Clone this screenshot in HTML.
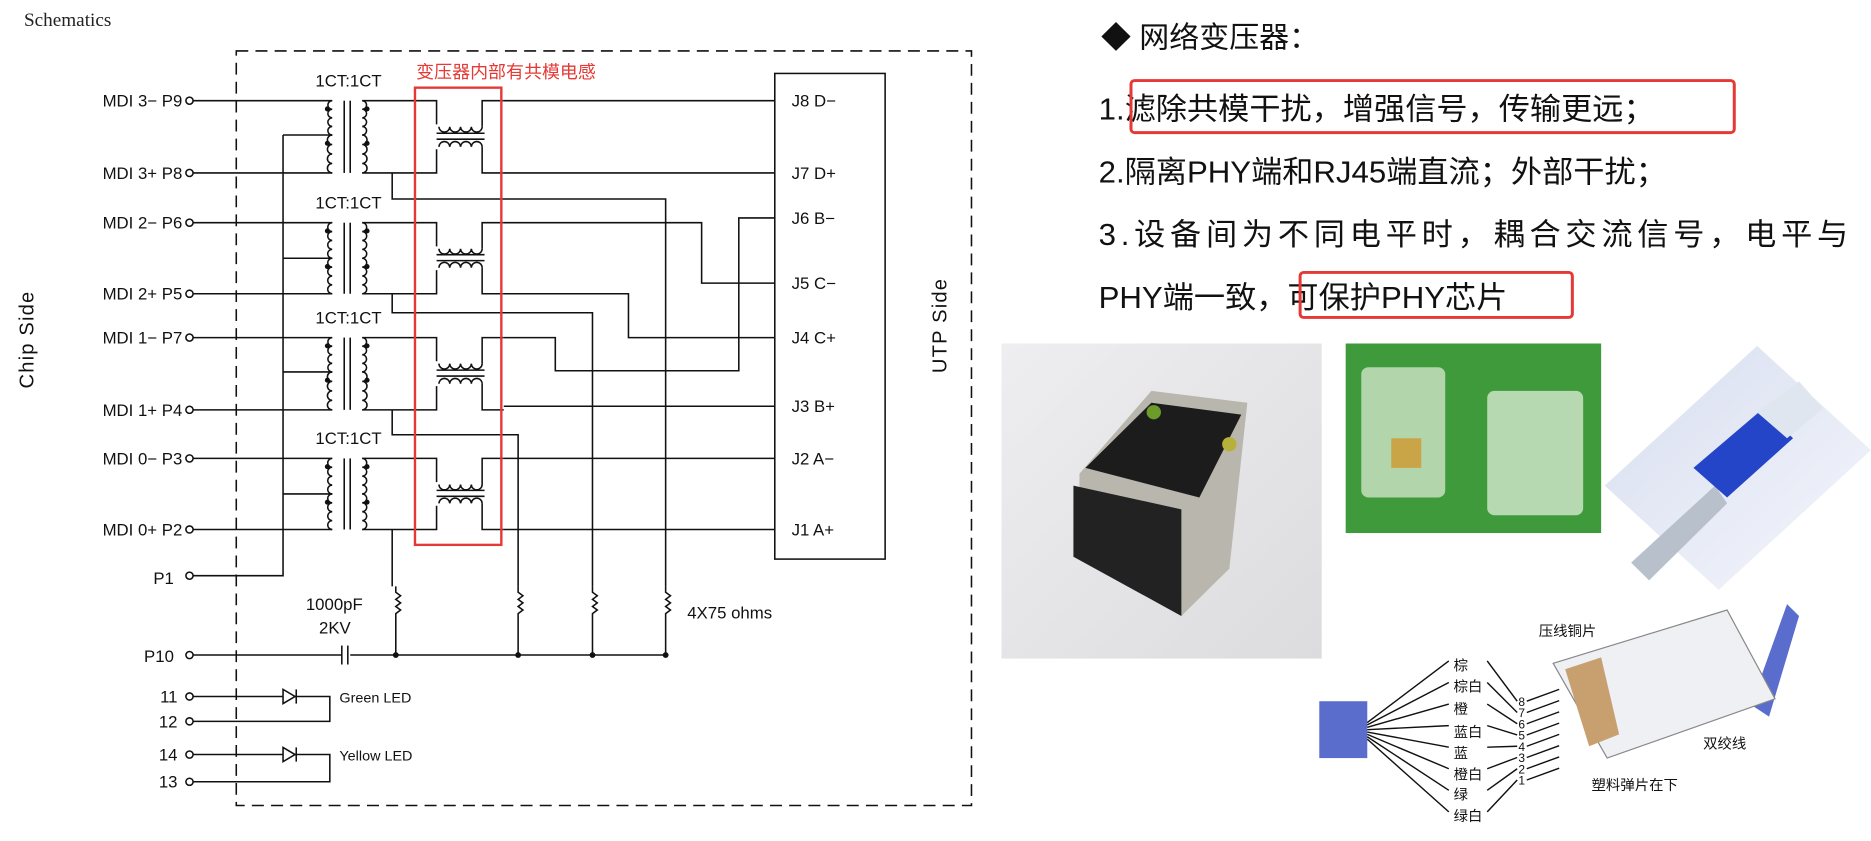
<!DOCTYPE html>
<html><head><meta charset="utf-8">
<style>
html,body{margin:0;padding:0;background:#fff;width:1871px;height:841px;overflow:hidden}
svg{display:block}
.s{font-family:"Liberation Sans","Noto Sans CJK SC",sans-serif}
.cn{font-family:"Liberation Sans","Noto Sans CJK SC",sans-serif}
</style></head><body>
<svg id="root" width="1871" height="841" viewBox="0 0 1560 710" preserveAspectRatio="none" xmlns="http://www.w3.org/2000/svg">
<g id="sch" stroke="#111" stroke-width="1.3" fill="none">
  <text x="20" y="22" font-family="Liberation Serif,serif" font-size="16" fill="#222" stroke="none">Schematics</text>
  <rect x="197" y="43" width="613" height="637" stroke-dasharray="10,6"/>
  <rect x="646" y="62" width="92" height="410"/>
  <text transform="translate(28,328) rotate(-90)" font-size="17" class="s" fill="#111" stroke="none" letter-spacing="1">Chip  Side</text>
  <text transform="translate(789,315) rotate(-90)" font-size="17" class="s" fill="#111" stroke="none" letter-spacing="1">UTP  Side</text>
</g>
<rect x="346" y="74" width="72" height="386" fill="none" stroke="#e53935" stroke-width="2"/>
<text x="347" y="66" class="cn" font-size="15" fill="#e53935">变压器内部有共模电感</text>

<g id="right" class="cn" fill="#111">
  <text x="918" y="40" font-size="25">◆ 网络变压器：</text>
  <text x="916" y="101" font-size="26">1.滤除共模干扰，增强信号，传输更远；</text>
  <text x="916" y="154" font-size="26">2.隔离PHY端和RJ45端直流；外部干扰；</text>
  <text x="916" y="207" font-size="26" textLength="625">3.设备间为不同电平时，耦合交流信号，电平与</text>
  <text x="916" y="260" font-size="26">PHY端一致，可保护PHY芯片</text>
  <rect x="943" y="68" width="503" height="44" fill="none" stroke="#e53935" stroke-width="2.5" rx="3"/>
  <rect x="1084" y="230" width="227" height="38" fill="none" stroke="#e53935" stroke-width="2.5" rx="3"/>
</g>

<defs>
<linearGradient id="g1" x1="0" y1="0" x2="1" y2="1"><stop offset="0" stop-color="#eeeef0"/><stop offset="1" stop-color="#dcdcde"/></linearGradient>
<linearGradient id="g3" x1="0" y1="0" x2="1" y2="1"><stop offset="0" stop-color="#d8def0"/><stop offset="1" stop-color="#f4f6fb"/></linearGradient>
</defs>
<g>
  <rect x="835" y="290" width="267" height="266" fill="url(#g1)"/>
  <polygon points="900,400 960,330 1040,340 1025,480 985,520 900,460" fill="#b9b6ae"/>
  <polygon points="905,395 960,340 1035,350 1000,420" fill="#1c1c1c"/>
  <polygon points="895,410 985,430 985,520 895,470" fill="#222"/>
  <circle cx="962" cy="348" r="6" fill="#6c9b2a"/><circle cx="1025" cy="375" r="6" fill="#b7b03a"/>
</g>
<g>
  <rect x="1122" y="290" width="213" height="160" fill="#3f9a3c"/>
  <rect x="1135" y="310" width="70" height="110" fill="#cfe3c8" opacity=".8" rx="6"/>
  <rect x="1240" y="330" width="80" height="105" fill="#d6e8cf" opacity=".8" rx="6"/>
  <rect x="1160" y="370" width="25" height="25" fill="#c9a548"/>
</g>
<g>
  <polygon points="1338,410 1465,292 1560,380 1433,498" fill="url(#g3)"/>
  <polygon points="1360,475 1430,410 1440,425 1375,490" fill="#b8c0cc"/>
  <polygon points="1412,395 1470,345 1495,370 1440,420" fill="#2545c9"/>
  <polygon points="1465,348 1500,322 1520,345 1490,370" fill="#dfe6f0"/>
</g>
<g class="cn">
  <rect x="1100" y="592" width="40" height="48" fill="#5a6ccc"/>
  <polygon points="1490,510 1500,520 1475,605 1460,595" fill="#5a6ccc"/>
  <polygon points="1295,560 1440,515 1480,590 1340,640" fill="#eef0f4" stroke="#888"/>
  <polygon points="1305,565 1335,555 1350,620 1325,630" fill="#c8a070"/>
  <g stroke="#111" stroke-width="1.2" id="fan"></g>
  <g font-size="12" fill="#111">
    <text x="1283" y="537">压线铜片</text><text x="1420" y="632">双绞线</text><text x="1327" y="667">塑料弹片在下</text>
    <text x="1212" y="566">棕</text><text x="1212" y="584">棕白</text><text x="1212" y="603">橙</text><text x="1212" y="622">蓝白</text>
    <text x="1212" y="640">蓝</text><text x="1212" y="658">橙白</text><text x="1212" y="675">绿</text><text x="1212" y="693">绿白</text>
  </g>
  <g font-size="10" fill="#111" id="nums"></g>
</g>
</svg>
<script>
var NS='http://www.w3.org/2000/svg';
function el(p,t,a){var e=document.createElementNS(NS,t);for(var k in a){e.setAttribute(k,a[k]);}p.appendChild(e);return e;}
var leftLabels=['MDI 3−  P9','MDI 3+  P8','MDI 2−  P6','MDI 2+  P5','MDI 1−  P7','MDI 1+  P4','MDI 0−  P3','MDI 0+  P2'];
var leftY=[85,146,188,248,285,346,387,447];
var jLabels=['J8  D−','J7  D+','J6  B−','J5  C−','J4  C+','J3  B+','J2  A−','J1  A+'];
var jY=[85,146,184,239,285,343,387,447];
var ctY=[114,218,314,417];
var resX=[555,494,432,330];
var sch=document.getElementById('sch');
function T(x,y,s,fs,anchor){var t=el(sch,'text',{x:x,y:y,'font-size':fs||13,fill:'#111',stroke:'none','font-family':'Liberation Sans, sans-serif','text-anchor':anchor||'start'});t.textContent=s;return t;}
function coil(x,y1,y2,dir){var n=4,h=(y2-y1)/n,d='M'+x+' '+y1;for(var k=0;k<n;k++){d+=' a'+(h/2)+' '+(h/2)+' 0 0 '+(dir>0?1:0)+' 0 '+h;}el(sch,'path',{d:d});}
function hcoil(x1,x2,y,up){var n=4,w=(x2-x1)/n,d='M'+x1+' '+y;for(var k=0;k<n;k++){d+=' a'+(w/2)+' '+(w/2)+' 0 0 '+(up?1:0)+' '+w+' 0';}el(sch,'path',{d:d});}
try{
for(var i=0;i<8;i++){
  var y=leftY[i];
  var t=T(152,y+5,leftLabels[i],14,'end');
  
  
  el(sch,'circle',{cx:158,cy:y,r:3,fill:'#fff'});
  el(sch,'line',{x1:161,y1:y,x2:277,y2:y});
  var jt=T(660,jY[i]+5,jLabels[i],14);
  
  
}
for(var p=0;p<4;p++){
  var a=leftY[2*p],b=leftY[2*p+1],c=ctY[p];
  var lab=T(263,a-12,'1CT:1CT',14);
  
  
  coil(277,a,c,-1);coil(277,c,b,-1);
  el(sch,'line',{x1:287,y1:a,x2:287,y2:b});el(sch,'line',{x1:292,y1:a,x2:292,y2:b});
  coil(302,a,c,1);coil(302,c,b,1);
  el(sch,'circle',{cx:273,cy:a+7,r:1.5,fill:'#111'});el(sch,'circle',{cx:306,cy:a+7,r:1.5,fill:'#111'});
  el(sch,'circle',{cx:273,cy:c+7,r:1.5,fill:'#111'});el(sch,'circle',{cx:306,cy:c+7,r:1.5,fill:'#111'});
  el(sch,'line',{x1:236,y1:c,x2:277,y2:c});
  el(sch,'polyline',{points:'302,'+a+' 364,'+a+' 364,'+(a+20)});
  el(sch,'polyline',{points:'302,'+b+' 364,'+b+' 364,'+(b-20)});
  hcoil(366,402,a+22,false);hcoil(366,402,b-22,true);
  el(sch,'line',{x1:364,y1:(a+b)/2-3,x2:404,y2:(a+b)/2-3});el(sch,'line',{x1:364,y1:(a+b)/2+2,x2:404,y2:(a+b)/2+2});
  el(sch,'polyline',{points:'402,'+(a+22)+' 402,'+a+' 420,'+a});
  el(sch,'polyline',{points:'402,'+(b-22)+' 402,'+b+' 420,'+b});
  var cy2=[168,264,367,0][p];
  if(cy2){el(sch,'polyline',{points:'327,'+b+' 327,'+cy2+' '+resX[p]+','+cy2+' '+resX[p]+',495'});}
  else{el(sch,'polyline',{points:'327,'+b+' 327,495'});}
}
var R=['420,85 646,85','420,146 646,146','420,188 585,188 585,239 646,239','420,248 524,248 524,285 646,285',
'420,285 463,285 463,313 616,313 616,184 646,184','420,343 646,343','420,387 646,387','420,447 646,447'];
for(var r=0;r<R.length;r++){el(sch,'polyline',{points:R[r]});}
el(sch,'polyline',{points:'236,114 236,486 161,486'});
el(sch,'circle',{cx:158,cy:486,r:3,fill:'#fff'});T(145,493,'P1',14,'end');
for(var q=0;q<resX.length;q++){var x=resX[q];var d='M'+x+' 495 l0 5';for(var k=0;k<6;k++){d+=' l'+(k%2?-4:4)+' 3';}d+=' l0 5 L'+x+' 553';el(sch,'path',{d:d});el(sch,'circle',{cx:x,cy:553,r:1.8,fill:'#111'});}
el(sch,'line',{x1:555,y1:553,x2:292,y2:553});
el(sch,'line',{x1:285,y1:553,x2:161,y2:553});
el(sch,'line',{x1:285,y1:545,x2:285,y2:561});el(sch,'line',{x1:290,y1:545,x2:290,y2:561});
el(sch,'circle',{cx:158,cy:553,r:3,fill:'#fff'});T(145,559,'P10',14,'end');
T(255,515,'1000pF',14);T(266,535,'2KV',14);T(573,522,'4X75  ohms',14);
var L=[[588,609,'11','12','Green  LED'],[637,660,'14','13','Yellow  LED']];
for(var m=0;m<2;m++){var l=L[m];
  el(sch,'circle',{cx:158,cy:l[0],r:3,fill:'#fff'});el(sch,'circle',{cx:158,cy:l[1],r:3,fill:'#fff'});
  T(148,l[0]+5,l[2],14,'end');T(148,l[1]+5,l[3],14,'end');
  el(sch,'polyline',{points:'161,'+l[0]+' 275,'+l[0]+' 275,'+l[1]+' 161,'+l[1]});
  el(sch,'polygon',{points:'236,'+(l[0]-6)+' 246,'+l[0]+' 236,'+(l[0]+6),fill:'#fff'});
  el(sch,'line',{x1:247,y1:l[0]-6,x2:247,y2:l[0]+6});
  T(283,l[0]+5,l[4],12);
}
var fan=document.getElementById('fan'),nums=document.getElementById('nums');
for(var k2=0;k2<8;k2++){
  var ly=562+k2*18.2, ny=592+k2*9.5;
  el(fan,'line',{x1:1140,y1:610+k2*2,x2:1208,y2:ly-4});
  el(fan,'line',{x1:1240,y1:ly-4,x2:1265,y2:ny});
  el(fan,'line',{x1:1273,y1:ny,x2:1300,y2:ny-10});
  var n=el(nums,'text',{x:1266,y:ny+4});n.textContent=String(8-k2);
}
}catch(e){}
</script>
</body></html>
